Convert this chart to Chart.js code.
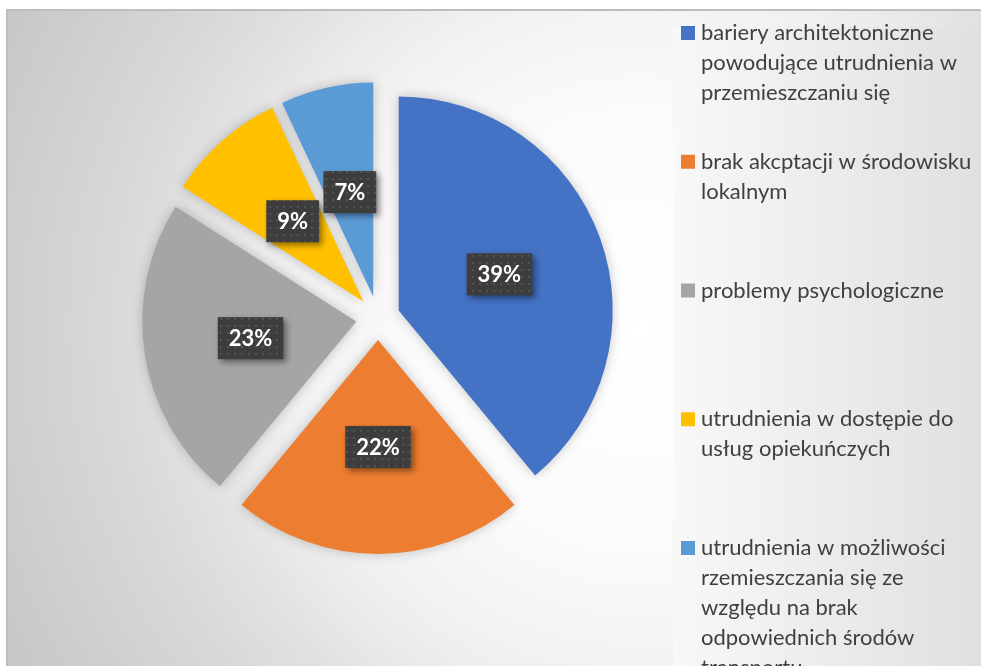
<!DOCTYPE html>
<html>
<head>
<meta charset="utf-8">
<script src="https://cdn.jsdelivr.net/npm/chart.js@4.4.1/dist/chart.umd.min.js"></script>
<style>
  html, body { margin: 0; padding: 0; background: #fff; }
  #wykres { display: block; }
</style>
</head>
<body>
<canvas id="wykres" width="981" height="666"></canvas>
<script>
// kategorie - każda jako lista linii w legendzie
const kategorie = [
  ['bariery architektoniczne', 'powodujące utrudnienia w', 'przemieszczaniu się'],
  ['brak akcptacji w środowisku', 'lokalnym'],
  ['problemy psychologiczne'],
  ['utrudnienia w dostępie do', 'usług opiekuńczych'],
  ['utrudnienia w możliwości', 'rzemieszczania się ze', 'względu na brak', 'odpowiednich środów', 'transportu']
];
const wartosci = [39, 22, 23, 9, 7];
const kolory = ['#4472C4', '#ED7D31', '#A5A5A5', '#FFC000', '#5B9BD5'];

const ODSUN = 22; // wysunięcie wycinków

// tło wykresu i obszaru legendy
const tlo = {
  id: 'tlo',
  beforeDraw(chart) {
    const c = chart.ctx;
    const w = chart.width, h = chart.height;
    c.save();
    c.fillStyle = '#ffffff';
    c.fillRect(0, 0, w, h);
    const g = c.createRadialGradient(640, 330, 0, 640, 330, 720);
    g.addColorStop(0, '#ffffff');
    g.addColorStop(0.3, '#fbfbfb');
    g.addColorStop(0.47, '#f2f2f2');
    g.addColorStop(0.56, '#eaeaea');
    g.addColorStop(0.63, '#e2e2e2');
    g.addColorStop(0.74, '#d8d8d8');
    g.addColorStop(1, '#c6c6c6');
    c.fillStyle = g;
    c.fillRect(6, 9, w - 6, h - 9);
    // pole legendy
    const lg = c.createLinearGradient(673, 0, w, 0);
    lg.addColorStop(0, '#f8f8f8');
    lg.addColorStop(1, '#e0e0e0');
    c.fillStyle = lg;
    c.fillRect(673, 26, w - 673, h - 26);
    // ramka
    c.strokeStyle = '#bdbdbd';
    c.lineWidth = 2;
    c.beginPath();
    c.moveTo(7, h);
    c.lineTo(7, 10);
    c.lineTo(w, 10);
    c.stroke();
    c.restore();
  }
};

// rysowanie wycinków z wysunięciem i cieniem
const wysuniecie = {
  id: 'wysuniecie',
  beforeDatasetDraw(chart, args) {
    const c = chart.ctx;
    args.meta.data.forEach(arc => {
      const mid = (arc.startAngle + arc.endAngle) / 2;
      c.save();
      c.shadowColor = 'rgba(0,0,0,0.22)';
      c.shadowBlur = 12;
      c.translate(Math.cos(mid) * ODSUN, Math.sin(mid) * ODSUN);
      arc.draw(c);
      c.restore();
    });
    return false;
  }
};

// wzór w kropki dla etykiet
function wzorKropki(c) {
  const p = document.createElement('canvas');
  p.width = 7; p.height = 7;
  const pc = p.getContext('2d');
  pc.fillStyle = '#3d3d3d';
  pc.fillRect(0, 0, 7, 7);
  pc.fillStyle = '#525252';
  pc.fillRect(3, 3, 2, 2);
  return c.createPattern(p, 'repeat');
}

// etykiety procentowe
const etykiety = {
  id: 'etykiety',
  afterDatasetsDraw(chart) {
    const c = chart.ctx;
    const meta = chart.getDatasetMeta(0);
    const suma = wartosci.reduce((a, b) => a + b, 0);
    const wzor = wzorKropki(c);
    c.save();
    c.font = 'bold 22px Lato';
    c.textAlign = 'center';
    c.textBaseline = 'middle';
    meta.data.forEach((arc, i) => {
      const mid = (arc.startAngle + arc.endAngle) / 2;
      const r = ODSUN + arc.outerRadius * 0.5;
      const x = arc.x + Math.cos(mid) * r;
      const y = arc.y + Math.sin(mid) * r;
      const tekst = Math.round(wartosci[i] / suma * 100) + '%';
      const bw = c.measureText(tekst).width + 22;
      const bh = 42;
      c.save();
      c.shadowColor = 'rgba(0,0,0,0.45)';
      c.shadowBlur = 6;
      c.shadowOffsetX = 3;
      c.shadowOffsetY = 3;
      c.fillStyle = wzor;
      c.fillRect(x - bw / 2, y - bh / 2, bw, bh);
      c.restore();
      c.fillStyle = '#ffffff';
      c.fillText(tekst, x, y + 1);
    });
    c.restore();
  }
};

// legenda po prawej
const legenda = {
  id: 'legenda',
  afterDraw(chart) {
    const c = chart.ctx;
    c.save();
    c.font = '22px Lato';
    c.textAlign = 'left';
    c.textBaseline = 'middle';
    kategorie.forEach((linie, i) => {
      const y0 = 33 + i * 128.75;
      c.fillStyle = kolory[i];
      c.fillRect(681, y0 - 7, 14, 14);
      c.fillStyle = '#404040';
      linie.forEach((l, j) => c.fillText(l, 701, y0 + j * 30));
    });
    c.restore();
  }
};

const ctx = document.getElementById('wykres');
new Chart(ctx, {
  type: 'pie',
  data: {
    labels: kategorie,
    datasets: [{
      data: wartosci,
      backgroundColor: kolory,
      borderWidth: 0
    }]
  },
  options: {
    responsive: false,
    animation: false,
    devicePixelRatio: 1,
    radius: 214,
    layout: { padding: { left: 100, right: 325, top: 40, bottom: 70 } },
    plugins: {
      legend: { display: false },
      tooltip: { enabled: false }
    }
  },
  plugins: [tlo, wysuniecie, etykiety, legenda]
});
</script>
</body>
</html>
